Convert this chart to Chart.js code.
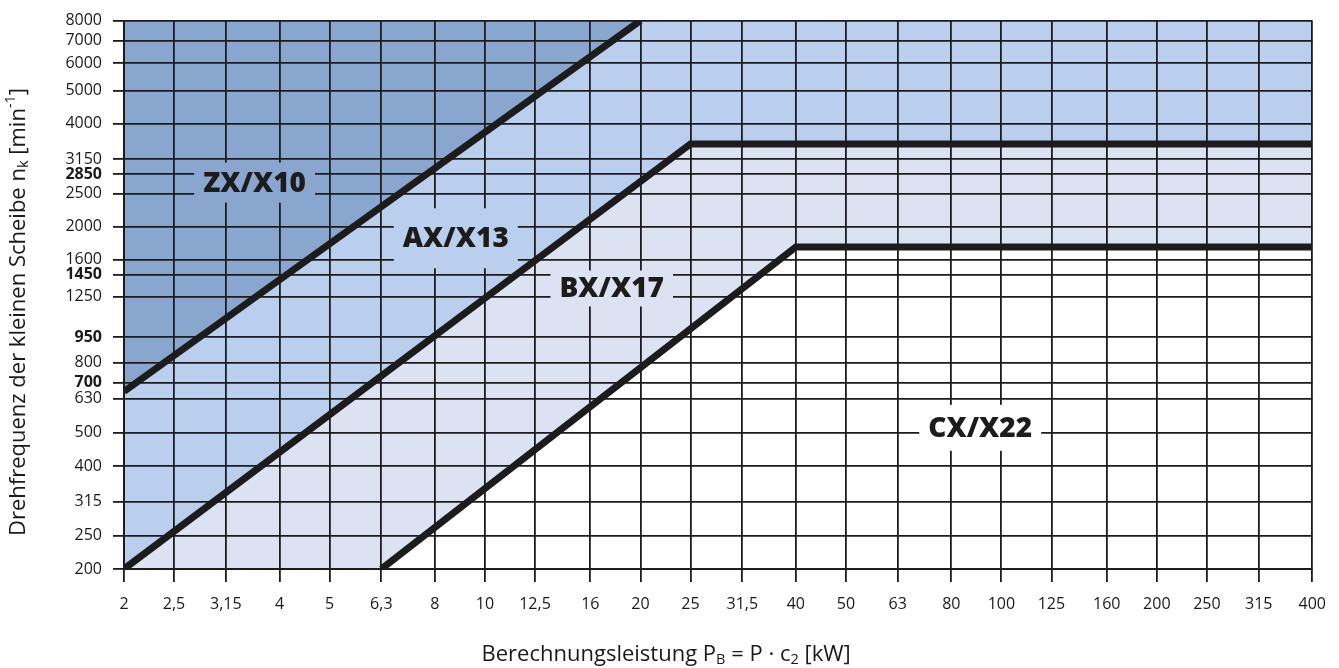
<!DOCTYPE html>
<html>
  <head>
    <style>
      body { margin: 0; background: #ffffff; }
      #chart-container { position: relative; width: 1339px; height: 668px; }
    </style>
  </head>
  <body>
    <div id="chart-container">
      <canvas id="chart" width="1339" height="668"></canvas>
    </div>

    <script src="https://cdn.jsdelivr.net/npm/chart.js"></script>
    <script>
      // tick values of both log axes
      const powerTicks = [2, 2.5, 3.15, 4, 5, 6.3, 8, 10, 12.5, 16, 20, 25, 31.5, 40, 50, 63, 80, 100, 125, 160, 200, 250, 315, 400];
      const speedTicks = [200, 250, 315, 400, 500, 630, 700, 800, 950, 1250, 1450, 1600, 2000, 2500, 2850, 3150, 4000, 5000, 6000, 7000, 8000];
      const boldSpeedTicks = [700, 950, 1450, 2850];

      // boundary lines between the belt profiles (P in kW, n in 1/min)
      const zxPower = [2, 20];
      const zxSpeed = [660, 8000];
      const axPower = [2, 25, 400];
      const axSpeed = [200, 3490, 3490];
      const cxPower = [6.3, 40, 400];
      const cxSpeed = [200, 1745, 1745];

      // region names and where they sit
      const regionNames = ["ZX/X10", "AX/X13", "BX/X17", "CX/X22"];
      const regionPower = [3.58, 8.78, 17.6, 91];
      const regionSpeed = [2690, 1850, 1320, 517];

      const colors = {
        zx: "#89a6cf",
        ax: "#bacfee",
        bx: "#dce2f2",
        cx: "#ffffff",
        ink: "#1c1c1c"
      };
      const regionFill = [colors.zx, colors.ax, colors.bx, colors.cx];
      const regionBoxHeight = [40, 60, 36, 46];

      function points(xs, ys) {
        return xs.map(function (v, i) { return { x: v, y: ys[i] }; });
      }

      // lavender area starts at the bottom left corner
      const bxArea = points([2].concat(cxPower), [200].concat(cxSpeed));

      function drawRich(ctx, parts, size, family) {
        // parts: [text, mode] where mode is "", "sub" or "sup"
        let total = 0;
        parts.forEach(function (p) {
          ctx.font = (p[1] ? size * 0.66 : size) + "px " + family;
          total += ctx.measureText(p[0]).width;
        });
        let x = -total / 2;
        parts.forEach(function (p) {
          ctx.font = (p[1] ? size * 0.66 : size) + "px " + family;
          let dy = 0;
          if (p[1] === "sub") dy = size * 0.22;
          if (p[1] === "sup") dy = -size * 0.38;
          ctx.fillText(p[0], x, dy);
          x += ctx.measureText(p[0]).width;
        });
      }

      const titlePlugin = {
        id: "titles",
        afterDraw: function (chart) {
          const ctx = chart.ctx;
          const area = chart.chartArea;
          ctx.save();
          ctx.fillStyle = "#1a1a1a";
          ctx.textAlign = "left";
          ctx.textBaseline = "middle";

          ctx.save();
          ctx.translate((area.left + area.right) / 2 - 52, 655);
          drawRich(ctx, [["Berechnungsleistung P", ""], ["B", "sub"], [" = P \u00b7 c", ""], ["2", "sub"], [" [kW]", ""]], 22, '"Open Sans"');
          ctx.restore();

          ctx.save();
          ctx.translate(19, 312);
          ctx.rotate(-Math.PI / 2);
          drawRich(ctx, [["Drehfrequenz der kleinen Scheibe n", ""], ["k", "sub"], [" [min", ""], ["-1", "sup"], ["]", ""]], 22, '"Open Sans"');
          ctx.restore();

          ctx.restore();
        }
      };

      const labelPlugin = {
        id: "regionLabels",
        afterDraw: function (chart) {
          const ctx = chart.ctx;
          const xs = chart.scales.x;
          const ys = chart.scales.y;
          ctx.save();
          ctx.font = '800 28px "Open Sans"';
          ctx.textAlign = "center";
          ctx.textBaseline = "middle";
          regionNames.forEach(function (name, i) {
            const px = xs.getPixelForValue(regionPower[i]);
            const py = ys.getPixelForValue(regionSpeed[i]);
            const w = ctx.measureText(name).width + 18;
            const h = regionBoxHeight[i];
            ctx.fillStyle = regionFill[i];
            ctx.fillRect(px - w / 2, py - h / 2, w, h);
            ctx.fillStyle = colors.ink;
            ctx.fillText(name, px, py + 1);
          });
          ctx.restore();
        }
      };

      const canvas = document.getElementById("chart");

      const boundary = {
        type: "line",
        fill: false,
        borderColor: colors.ink,
        borderWidth: 7,
        borderCapStyle: "butt",
        pointRadius: 0,
        tension: 0,
        order: 0
      };

      window.app = {};
      app.chart = new Chart(canvas, {
        type: "line",
        data: {
          datasets: [
            { data: bxArea, fill: "end", backgroundColor: colors.bx, borderWidth: 0, pointRadius: 0, order: 3 },
            { data: points(axPower, axSpeed), fill: "end", backgroundColor: colors.ax, borderWidth: 0, pointRadius: 0, order: 2 },
            { data: points(zxPower, zxSpeed), fill: "end", backgroundColor: colors.zx, borderWidth: 0, pointRadius: 0, order: 1 },
            Object.assign({ data: points(zxPower, zxSpeed) }, boundary),
            Object.assign({ data: points(axPower, axSpeed) }, boundary),
            Object.assign({ data: points(cxPower, cxSpeed) }, boundary)
          ]
        },
        options: {
          responsive: false,
          animation: false,
          devicePixelRatio: 1,
          layout: { padding: { left: 36, right: 26, top: 17, bottom: 0 } },
          plugins: {
            legend: { display: false },
            tooltip: { enabled: false }
          },
          scales: {
            x: {
              type: "logarithmic",
              min: 2,
              max: 400,
              afterBuildTicks: function (scale) {
                scale.ticks = powerTicks.map(function (v) { return { value: v }; });
              },
              afterFit: function (scale) { scale.height = 99; },
              grid: { z: 1, color: colors.ink, lineWidth: 1.8, tickLength: 13, drawTicks: true },
              border: { z: 1, display: true, color: colors.ink, width: 2 },
              ticks: {
                autoSkip: false,
                maxRotation: 0,
                padding: 13,
                color: "#1a1a1a",
                font: { family: '"Open Sans"', size: 16 },
                callback: function (v) { return String(v).replace(".", ","); }
              }
            },
            y: {
              type: "logarithmic",
              min: 200,
              max: 8000,
              afterBuildTicks: function (scale) {
                scale.ticks = speedTicks.map(function (v) { return { value: v }; });
              },
              afterFit: function (scale) { scale.width = 88; },
              grid: { z: 1, color: colors.ink, lineWidth: 1.8, tickLength: 11, drawTicks: true },
              border: { z: 1, display: true, color: colors.ink, width: 2 },
              ticks: {
                autoSkip: false,
                padding: 11,
                color: "#1a1a1a",
                font: function (c) {
                  const bold = c.tick && boldSpeedTicks.indexOf(c.tick.value) !== -1;
                  return { family: '"Open Sans"', size: 16, weight: bold ? "bold" : "normal" };
                },
                callback: function (v) { return String(v); }
              }
            }
          }
        },
        plugins: [labelPlugin, titlePlugin]
      });
    </script>
  </body>
</html>
